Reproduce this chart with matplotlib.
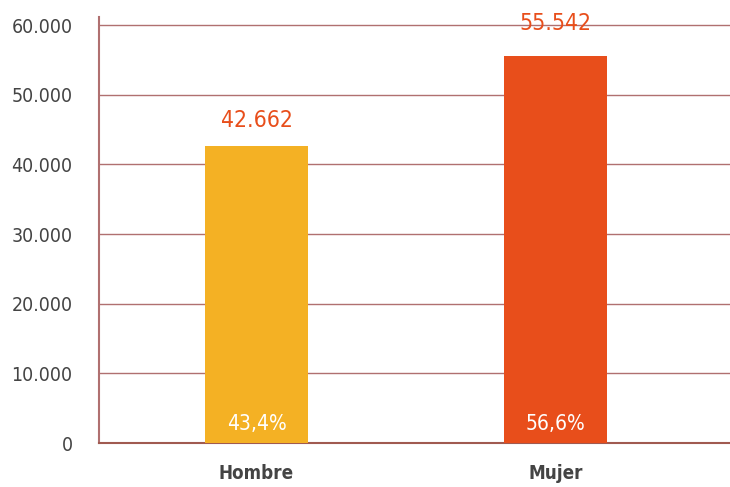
import matplotlib.pyplot as plt
from matplotlib.ticker import FuncFormatter

categories = ["Hombre", "Mujer"]
values = [42662, 55542]
value_labels = ["42.662", "55.542"]
pct_labels = ["43,4%", "56,6%"]
bar_colors = ["#f4b124", "#e84e1b"]
yticks = [0, 10000, 20000, 30000, 40000, 50000, 60000]

plt.rcParams["font.family"] = ["Liberation Sans Narrow", "DejaVu Sans"]
plt.rcParams["font.stretch"] = "condensed"

fig = plt.figure(figsize=(7.3, 4.87), dpi=100)
ax = fig.add_axes([0.1356, 0.0903, 0.8644, 0.8747])

x = list(range(len(categories)))
ax.bar(x, values, width=0.345, color=bar_colors, zorder=3)

# value labels sit a bit higher over the taller bar in the original
label_offsets = [10, 15]
for i, v in enumerate(values):
    ax.annotate(value_labels[i], (x[i], v), xytext=(0, label_offsets[i]), textcoords="offset points",
                ha="center", va="bottom", fontsize=16.5, color="#e84e1b", zorder=4)
    ax.annotate(pct_labels[i], (x[i], 0), xytext=(0, 6.5), textcoords="offset points",
                ha="center", va="bottom", fontsize=15, color="white", zorder=4)

ax.set_xlim(-0.527, 1.584)
ax.set_ylim(0, 61150)
ax.set_yticks(yticks)
ax.yaxis.set_major_formatter(FuncFormatter(lambda v, p: "0" if v == 0 else "{:,.0f}".format(v).replace(",", ".")))
ax.set_xticks(x)
ax.set_xticklabels(categories, fontsize=13.5, fontweight="bold", color="#444444")
ax.tick_params(axis="y", length=0, pad=19, labelsize=14, labelcolor="#444444")
ax.tick_params(axis="x", length=0, pad=15)

ax.grid(axis="y", color="#b07070", linewidth=1, zorder=1)
for s in ["top", "right"]:
    ax.spines[s].set_visible(False)
ax.spines["left"].set_color("#b07070")
ax.spines["bottom"].set_color("#a05a50")
ax.spines["left"].set_linewidth(1.5)
ax.spines["bottom"].set_linewidth(1.5)

fig.savefig("out.png", dpi=100)
